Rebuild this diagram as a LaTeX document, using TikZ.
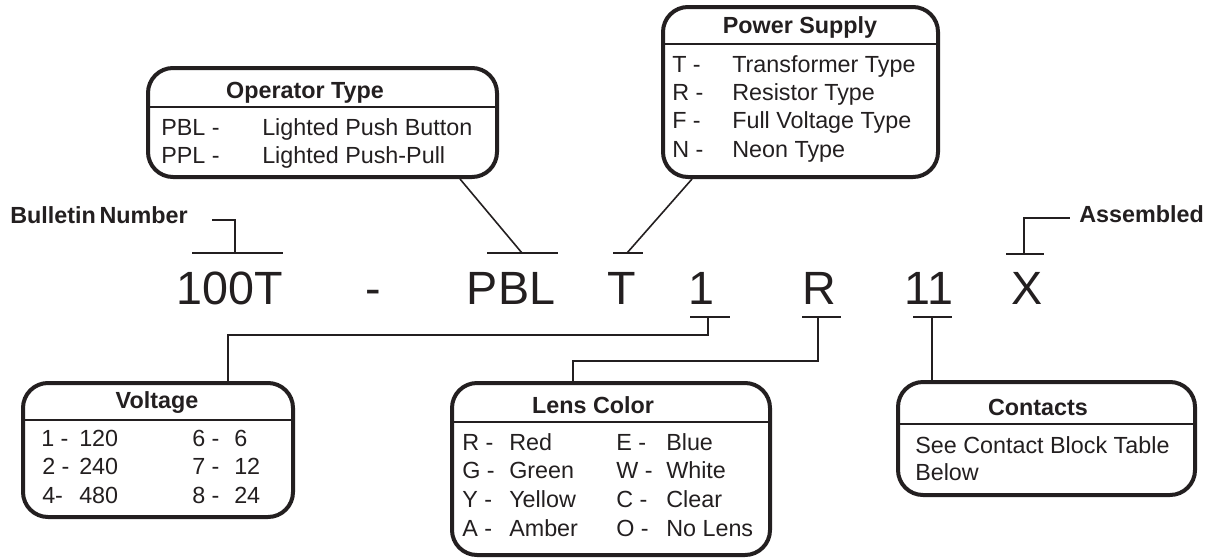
\documentclass[tikz,border=0pt]{standalone}
\usepackage{fontspec}
\setmainfont{Liberation Sans}
\usetikzlibrary{fit}
\definecolor{ink}{RGB}{35,31,32}
\tikzset{
  box/.style={draw=ink, line width=3pt, rounded corners=18.75pt, inner sep=0pt},
  sepline/.style={draw=ink, line width=1pt},
  conn/.style={draw=ink, line width=1.2pt},
  ttl/.style={font=\bfseries\fontsize{17.5}{20}\selectfont, text=ink, anchor=base, inner sep=0pt},
  lbl/.style={font=\bfseries\fontsize{17.5}{20}\selectfont, text=ink, anchor=base west, inner sep=0pt},
  rowt/.style={font=\fontsize{17.5}{20}\selectfont, text=ink, anchor=base west, inner sep=0pt},
  codet/.style={font=\fontsize{35}{40}\selectfont, text=ink, anchor=base, inner sep=0pt},
}
\begin{document}
\begin{tikzpicture}[x=0.75pt,y=-0.75pt]
\useasboundingbox (0,0) rectangle (1212,557);

% ---- code line ----
\node[codet] (c100) at (230,304) {100T};
\node[codet] (cdash) at (373,304) {-};
\node[codet] (cpbl) at (511,304) {PBL};
\node[codet] (ct) at (622,304) {T};
\node[codet] (c1) at (701,304) {1};
\node[codet] (cr) at (819,304) {R};
\node[codet] (c11) at (929,304) {11};
\node[codet] (cx) at (1027,304) {X};

% ---- boxes ----
\node[box, fit={(148,68) (497,177)}] (op) {};
\node[box, fit={(663,7) (938,177)}] (ps) {};
\node[box, fit={(23,383) (293,517)}] (volt) {};
\node[box, fit={(452,383) (770,555)}] (lens) {};
\node[box, fit={(898,382) (1195,495)}] (cont) {};

\draw[sepline] (op.west |- 0,107) -- (op.east |- 0,107);
\draw[sepline] (ps.west |- 0,44) -- (ps.east |- 0,44);
\draw[sepline] (volt.west |- 0,420) -- (volt.east |- 0,420);
\draw[sepline] (lens.west |- 0,422) -- (lens.east |- 0,422);
\draw[sepline] (cont.west |- 0,424) -- (cont.east |- 0,424);

% ---- Operator Type ----
\node[ttl] (opt) at (305,98) {Operator Type};
\node[rowt] (op1a) at (161,135) {PBL -};
\node[rowt] (op1b) at (262,135) {Lighted Push Button};
\node[rowt] (op2a) at (161,163) {PPL -};
\node[rowt] (op2b) at (262,163) {Lighted Push-Pull};

% ---- Power Supply ----
\node[ttl] (pst) at (800,33) {Power Supply};
\node[rowt] (ps1a) at (672,72) {T -};
\node[rowt] (ps1b) at (732,72) {Transformer Type};
\node[rowt] (ps2a) at (672,100) {R -};
\node[rowt] (ps2b) at (732,100) {Resistor Type};
\node[rowt] (ps3a) at (672,128) {F -};
\node[rowt] (ps3b) at (732,128) {Full Voltage Type};
\node[rowt] (ps4a) at (672,157) {N -};
\node[rowt] (ps4b) at (732,157) {Neon Type};

% ---- Voltage ----
\node[ttl] (vt) at (157,408) {Voltage};
\node[rowt] (v1a) at (41,446) {1 -};
\node[rowt] (v1b) at (79,446) {120};
\node[rowt] (v2a) at (42,474) {2 -};
\node[rowt] (v2b) at (79,474) {240};
\node[rowt] (v3a) at (42,503) {4-};
\node[rowt] (v3b) at (79,503) {480};
\node[rowt] (v4a) at (192,446) {6 -};
\node[rowt] (v4b) at (234,446) {6};
\node[rowt] (v5a) at (192,474) {7 -};
\node[rowt] (v5b) at (234,474) {12};
\node[rowt] (v6a) at (192,503) {8 -};
\node[rowt] (v6b) at (234,503) {24};

% ---- Lens Color ----
\node[ttl] (lt) at (593,413) {Lens Color};
\node[rowt] (l1a) at (462,450) {R -};
\node[rowt] (l1b) at (509,450) {Red};
\node[rowt] (l2a) at (462,478) {G -};
\node[rowt] (l2b) at (509,478) {Green};
\node[rowt] (l3a) at (462,507) {Y -};
\node[rowt] (l3b) at (509,507) {Yellow};
\node[rowt] (l4a) at (462,536) {A -};
\node[rowt] (l4b) at (509,536) {Amber};
\node[rowt] (l5a) at (616,450) {E -};
\node[rowt] (l5b) at (666,450) {Blue};
\node[rowt] (l6a) at (616,478) {W -};
\node[rowt] (l6b) at (666,478) {White};
\node[rowt] (l7a) at (616,507) {C -};
\node[rowt] (l7b) at (666,507) {Clear};
\node[rowt] (l8a) at (616,536) {O -};
\node[rowt] (l8b) at (666,536) {No Lens};

% ---- Contacts ----
\node[ttl] (ctt) at (1038,415) {Contacts};
\node[rowt] (ct1) at (915,453) {See Contact Block Table};
\node[rowt] (ct2) at (915,480) {Below};

% ---- side labels ----
\node[lbl] (bull) at (10,223) {Bulletin\hspace{-2pt} Number};
\node[lbl] (asm) at (1079,222) {Assembled};

% ---- bars and connectors ----
\coordinate (b100) at (235,253);
\coordinate (bullend) at (212,220);
\draw[conn] (192,253) -- (283,253);
\draw[conn] (b100) |- (bullend);

\coordinate (bpbl) at (522,253);
\coordinate (opx) at (460,0);
\draw[conn] (487,253) -- (558,253);
\draw[conn] (op.south -| opx) -- (bpbl);

\coordinate (bt) at (627,253);
\coordinate (psx) at (692,0);
\draw[conn] (613,253) -- (643,253);
\draw[conn] (ps.south -| psx) -- (bt);

\coordinate (bx) at (1024,254);
\coordinate (asmend) at (1070,218);
\draw[conn] (1006,254) -- (1044,254);
\draw[conn] (bx) |- (asmend);

\coordinate (b1) at (708,317);
\coordinate (vx) at (228,335);
\draw[conn] (690,317) -- (730,317);
\draw[conn] (b1) |- (vx) -- (volt.north -| vx);

\coordinate (br) at (818,317);
\coordinate (lx) at (573,361);
\draw[conn] (802,317) -- (841,317);
\draw[conn] (br) |- (lx) -- (lens.north -| lx);

\coordinate (b11) at (932,317);
\draw[conn] (913,317) -- (952,317);
\draw[conn] (b11) -- (cont.north -| b11);
\end{tikzpicture}
\end{document}
